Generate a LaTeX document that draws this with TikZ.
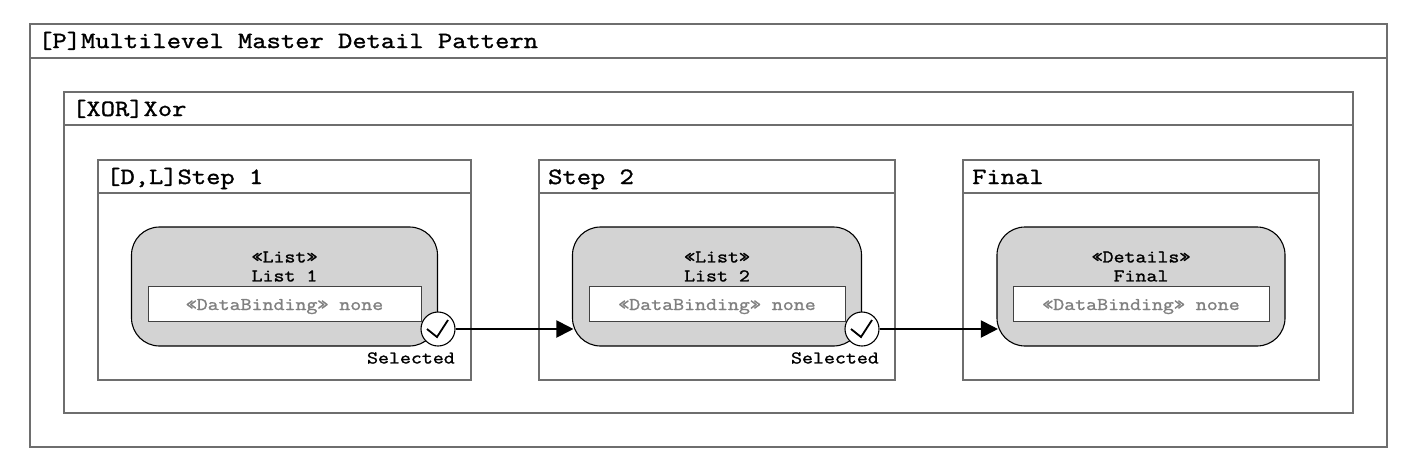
\documentclass[tikz,border=0pt]{standalone}
\usepackage{fontspec}
\newfontfamily\heavymono[FakeBold=1.4,FakeStretch=1.19]{Latin Modern Mono}
\usetikzlibrary{arrows.meta}
\definecolor{framegray}{HTML}{6E6E6E}
\definecolor{statefill}{HTML}{D3D3D3}
\tikzset{
  frameline/.style={draw=framegray, line width=1.2pt},
  titletext/.style={anchor=base west, inner sep=0pt, font=\heavymono\fontsize{23.3}{23.3}\selectfont},
  listbox/.style={draw=black, line width=1.1pt, fill=statefill, rounded corners=28pt, minimum height=119pt, inner sep=0pt},
  stereotext/.style={align=center, inner sep=0pt, font=\heavymono\fontsize{17.9}{19}\selectfont},
  bindbox/.style={draw=framegray!60!black, line width=1pt, fill=white, inner sep=1pt, text height=23pt, text depth=10pt, text=gray, font=\heavymono\fontsize{17.9}{19}\selectfont},
  selcircle/.style={circle, draw=black, line width=1.1pt, fill=white, minimum size=34pt, inner sep=0pt},
  seltext/.style={anchor=east, inner sep=0pt, font=\heavymono\fontsize{17.9}{19}\selectfont},
  flowline/.style={->, line width=2pt, shorten >=-1.5pt},
  tickline/.style={line width=1.8pt}
}
\begin{document}
\begin{tikzpicture}[x=1pt, y=-1pt, >={Triangle[length=17pt,width=17pt]}]
  \useasboundingbox (0,0) rectangle (1417,472);
  \draw[frameline] (30,24) rectangle (1387,447);
  \draw[frameline] (30,58) -- (1387,58);
  \node[titletext] (ptitle) at (38,48) {[P]Multilevel Master Detail Pattern};
  \draw[frameline] (64,92) rectangle (1353,413);
  \draw[frameline] (64,125) -- (1353,125);
  \node[titletext] (xortitle) at (72,116) {[XOR]Xor};

  \draw[frameline] (98,160) rectangle (471,380);
  \draw[frameline] (98,193) -- (471,193);
  \node[titletext] (steponetitle) at (106,184) {[D,L]Step 1};
  \draw[frameline] (539,160) rectangle (895,380);
  \draw[frameline] (539,193) -- (895,193);
  \node[titletext] (steptwotitle) at (548,184) {Step 2};
  \draw[frameline] (963,160) rectangle (1319,380);
  \draw[frameline] (963,193) -- (1319,193);
  \node[titletext] (finaltitle) at (972,184) {Final};

  \node[listbox, minimum width=306pt] (listone) at (284.5,286.5) {};
  \node[stereotext] (listonetext) at (284.5,266.5) {«List»\\List 1};
  \node[bindbox, minimum width=273pt] (bindone) at (284.5,303.5) {«DataBinding» none};
  \node[selcircle] (selone) at (438,329) {};
  \draw[tickline] ([shift={(-11,0)}]selone.center) -- ([shift={(-1,8)}]selone.center) -- ([shift={(10,-9)}]selone.center);
  \node[seltext] (selonetext) at (455,358) {Selected};

  \node[listbox, minimum width=289pt] (listtwo) at (717,286.5) {};
  \node[stereotext] (listtwotext) at (717,266.5) {«List»\\List 2};
  \node[bindbox, minimum width=256pt] (bindtwo) at (717,303.5) {«DataBinding» none};
  \node[selcircle] (seltwo) at (862,329) {};
  \draw[tickline] ([shift={(-11,0)}]seltwo.center) -- ([shift={(-1,8)}]seltwo.center) -- ([shift={(10,-9)}]seltwo.center);
  \node[seltext] (seltwotext) at (879,358) {Selected};

  \node[listbox, minimum width=288pt] (details) at (1141,286.5) {};
  \node[stereotext] (detailstext) at (1141,266.5) {«Details»\\Final};
  \node[bindbox, minimum width=256pt] (bindfinal) at (1141,303.5) {«DataBinding» none};

  \draw[flowline] (selone) -- (listtwo.west |- selone);
  \draw[flowline] (seltwo) -- (details.west |- seltwo);
\end{tikzpicture}
\end{document}
